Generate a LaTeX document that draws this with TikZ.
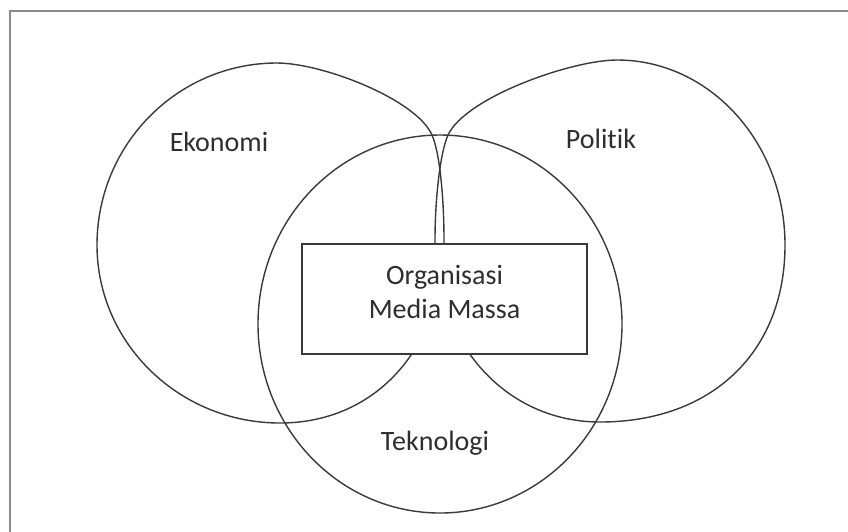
\documentclass[tikz,border=0pt]{standalone}
\usepackage{fontspec}
\setmainfont{Carlito}[Ligatures=NoCommon]
\definecolor{linec}{HTML}{3A3A3A}
\definecolor{textc}{HTML}{2E2E2E}
\definecolor{framec}{HTML}{8A8A8A}
\begin{document}
\begin{tikzpicture}[x=1pt,y=-1pt,
  setline/.style={draw=linec,line width=1.4pt},
  lbl/.style={text=textc,font=\fontsize{28}{34}\selectfont,inner sep=0pt},
  boxstyle/.style={draw=linec,line width=2pt,fill=white,minimum width=285pt,minimum height=110pt,inner sep=0pt}]
\useasboundingbox (0,0) rectangle (848,531);
\fill[white] (0,0) rectangle (848,531);
\clip (0,0) rectangle (848,531);
% frame (only top and left edges visible)
\draw[framec,line width=2pt] (10,540) -- (10,11) -- (860,11);
% Ekonomi
\draw[setline] (277,63) .. controls (322,63) and (416,99) .. (432,135)
  .. controls (440,153) and (444,200) .. (444,240)
  .. controls (444,345) and (378,423) .. (280,423)
  .. controls (179,423) and (97,343) .. (97,245)
  .. controls (97,144) and (178,63) .. cycle;
% Politik
\draw[setline] (617,60) .. controls (710,60) and (785,143) .. (785,245)
  .. controls (785,352) and (712,422) .. (600,422)
  .. controls (505,422) and (435,342) .. (435,240)
  .. controls (435,200) and (440,153) .. (448,135)
  .. controls (466,97) and (572,60) .. cycle;
% Teknologi
\draw[setline] (440,324) ellipse [x radius=182, y radius=189];
% central box
\node[boxstyle] (box) at (444.5,299) {};
\node[lbl,align=center] (boxtext) at (444.5,292) {Organisasi\\Media Massa};
% labels
\node[lbl,anchor=base] (eko) at (219,151) {Ekonomi};
\node[lbl,anchor=base] (pol) at (601,148) {Politik};
\node[lbl,anchor=base] (tek) at (435,450) {Teknologi};
\end{tikzpicture}
\end{document}
